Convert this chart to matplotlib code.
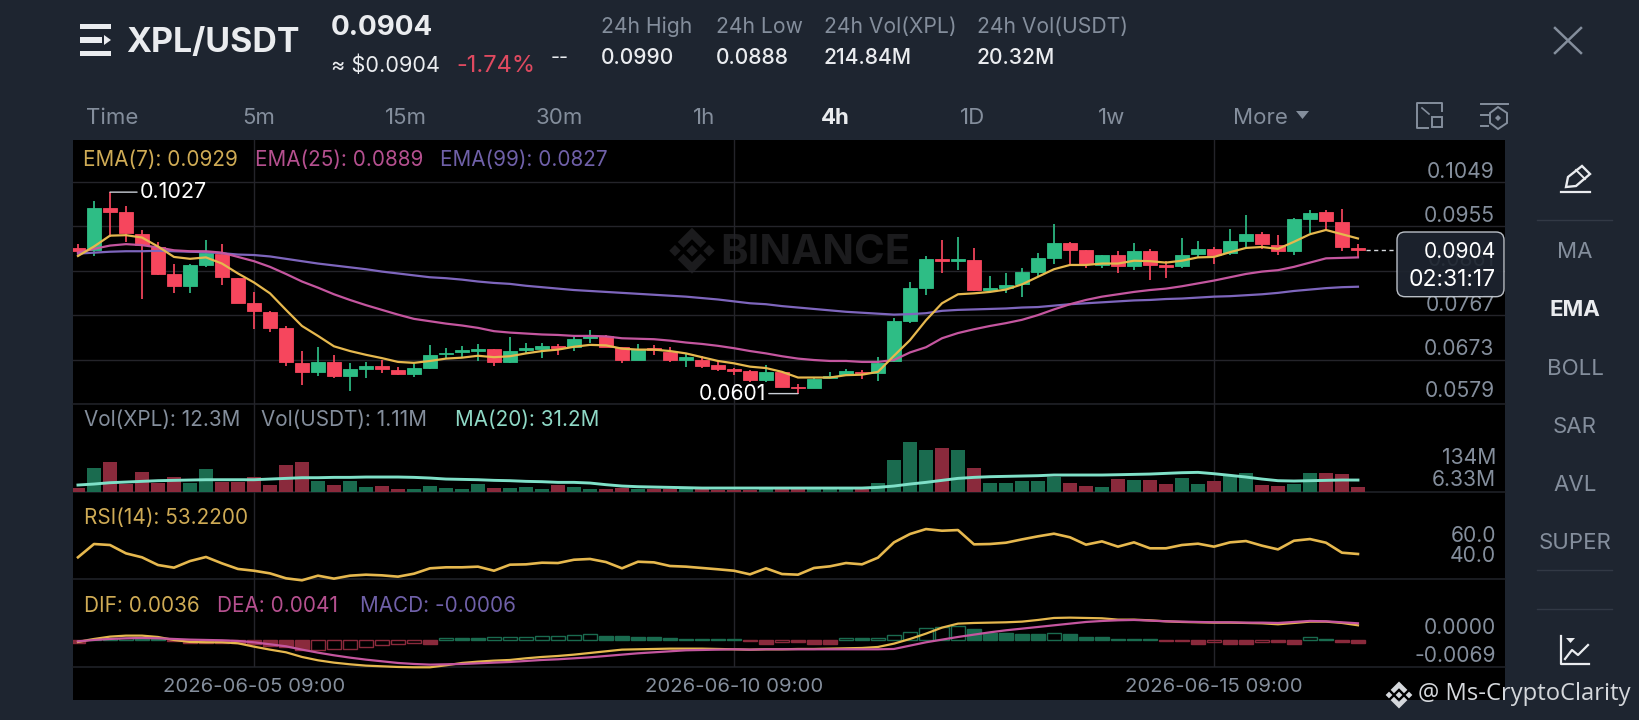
import numpy as np
import pandas as pd
import matplotlib
matplotlib.use("Agg")
import matplotlib.pyplot as plt
from matplotlib.patches import Polygon, Rectangle, FancyBboxPatch

plt.rcParams['font.family'] = ['Inter', 'DejaVu Sans']

# ---- candles, prices in ticks of 0.0001 USDT, 4h bars ----
times = pd.date_range("2026-06-03 13:00", periods=81, freq="4h")
opens = [909, 905, 994, 984, 938, 912, 853, 828, 873, 896, 845, 793, 773, 740, 665, 647, 668, 638, 654, 659, 651,
         642, 655, 685, 690, 692, 695, 667, 693, 695, 702, 700, 718, 723, 699, 673, 697, 690, 673, 673, 662, 654,
         648, 630, 646, 615, 613, 634, 640, 647, 645, 670, 755, 825, 885, 881, 883, 820, 824, 832, 859, 887, 920,
         904, 873, 894, 871, 902, 873, 871, 897, 907, 898, 924, 938, 915, 902, 970, 984, 964, 908]
closes = [902, 993, 986, 940, 915, 853, 829, 873, 898, 848, 793, 775, 740, 667, 647, 668, 639, 652, 659, 652, 642,
          655, 683, 687, 693, 695, 668, 692, 697, 702, 698, 716, 723, 700, 673, 695, 693, 672, 678, 659, 654, 649,
          630, 647, 615, 613, 632, 638, 649, 644, 666, 755, 824, 886, 881, 886, 820, 825, 831, 858, 887, 919, 904,
          875, 894, 871, 902, 873, 869, 895, 907, 895, 924, 938, 918, 902, 970, 983, 966, 910, 904]
highs = [917, 1008, 1027, 998, 947, 922, 876, 876, 926, 917, 846, 815, 775, 744, 692, 699, 683, 665, 668, 672, 658,
         663, 704, 697, 702, 705, 696, 720, 709, 708, 706, 725, 735, 725, 700, 706, 704, 700, 686, 680, 670, 656,
         651, 661, 647, 621, 634, 647, 653, 651, 679, 761, 838, 892, 926, 933, 908, 850, 857, 867, 898, 959, 921,
         905, 895, 902, 920, 906, 882, 931, 924, 912, 948, 979, 943, 936, 972, 989, 989, 991, 917]
lows = [892, 893, 933, 922, 802, 852, 813, 814, 869, 831, 792, 737, 732, 660, 620, 638, 634, 606, 634, 644, 640,
        637, 654, 676, 679, 670, 659, 666, 685, 676, 683, 691, 708, 699, 665, 672, 683, 668, 658, 656, 649, 640,
        626, 626, 614, 601, 612, 633, 638, 632, 628, 668, 750, 809, 855, 862, 818, 816, 814, 806, 847, 875, 875,
        866, 866, 857, 862, 841, 845, 867, 887, 874, 894, 912, 906, 895, 895, 940, 945, 902, 889]

ema7 = [892, 912, 935, 936, 931, 912, 890, 886, 889, 876, 855, 836, 813, 778, 744, 723, 701, 691, 683, 676, 668,
        666, 670, 675, 677, 681, 678, 680, 686, 691, 694, 700, 704, 703, 696, 694, 694, 691, 686, 678, 670, 665,
        658, 655, 647, 635, 635, 635, 640, 641, 647, 681, 714, 756, 792, 811, 813, 816, 821, 832, 848, 864, 873,
        873, 876, 876, 882, 881, 878, 882, 889, 890, 900, 909, 911, 907, 922, 938, 947, 938, 929]
ema25 = [899, 907, 914, 917, 915, 910, 904, 902, 902, 899, 890, 881, 869, 854, 838, 825, 811, 799, 788, 778, 768,
         759, 754, 749, 745, 740, 733, 730, 728, 726, 725, 723, 723, 722, 718, 717, 716, 713, 709, 706, 702, 697,
         691, 686, 680, 675, 672, 670, 670, 668, 668, 672, 688, 699, 718, 729, 737, 744, 750, 757, 767, 779, 790,
         799, 806, 811, 816, 820, 823, 828, 834, 840, 847, 854, 859, 862, 869, 878, 887, 888, 889]
ema99 = [897, 899, 901, 902, 902, 903, 902, 901, 900, 898, 895, 894, 891, 886, 881, 876, 872, 868, 864, 859, 855,
         851, 847, 845, 842, 838, 835, 833, 829, 826, 823, 820, 818, 816, 814, 812, 810, 808, 806, 803, 800, 796,
         792, 790, 786, 783, 780, 777, 774, 772, 770, 768, 769, 771, 776, 778, 779, 780, 781, 783, 784, 787, 790,
         792, 794, 796, 798, 799, 801, 802, 804, 806, 807, 809, 811, 814, 818, 821, 824, 826, 827]

# ---- volume in millions ----
volume = [8.9, 62.5, 79.5, 20.5, 51.8, 24, 38.4, 22.3, 59.8, 26.8, 26.8, 40.2, 17.9, 71.4, 79.5, 29.5, 17.9, 28.6,
          11.6, 14.3, 6.3, 6.3, 14.3, 10.7, 6.3, 20.5, 8.9, 10.7, 12.5, 7.1, 17.9, 12.5, 6.3, 7.1, 10.7, 6.3, 6.3,
          6.3, 6.3, 6.3, 5, 5, 5, 6, 8, 6, 6, 6, 6, 6, 22.3, 84.8, 134, 111.6, 117.9, 111.6, 62.5, 22.3, 22.3, 29.5,
          28.6, 40.2, 24.1, 15.2, 11.6, 33.9, 30.4, 32.1, 19.6, 37.5, 20.5, 29.5, 42, 50, 17.9, 16, 20.5, 50, 50,
          47.3, 12.3]
vol_ma20 = [17.9, 20.5, 24.1, 25.9, 27.7, 29.5, 30.4, 31.3, 32.1, 32.1, 32.1, 32.1, 33.9, 35.7, 37.5, 37.5, 38.4,
            38.4, 39.3, 39.3, 39.3, 38.4, 36.6, 33.9, 33, 32.1, 30.4, 29.5, 27.7, 26.8, 25, 25, 23.2, 18.8, 15.2,
            13.4, 12.5, 11.6, 10.7, 9.8, 9.8, 9.8, 9.8, 9.8, 9.8, 9.8, 9.8, 9.8, 9.8, 9.8, 11.6, 15.2, 20.5, 25,
            30.4, 35.7, 38.4, 40.2, 41.1, 42, 42.9, 44.7, 44.7, 44.7, 44.7, 45.5, 46.4, 47.3, 49.1, 50.9, 51.8,
            48.2, 43.8, 39.3, 33.9, 29.5, 28.6, 29.5, 30.4, 31.3, 31.2]

rsi14 = [50.2, 62.3, 61.4, 53.8, 50.2, 43.2, 40.8, 46.8, 50.5, 44.7, 39.6, 38.0, 35.6, 31.1, 29.3, 33.5, 30.8, 33.5,
         34.4, 33.8, 32.6, 35.3, 40.2, 41.1, 41.1, 41.7, 38.0, 43.5, 43.8, 45.3, 45.0, 48.0, 48.7, 45.9, 40.2, 46.2,
         45.6, 42.3, 41.7, 40.5, 39.3, 38.0, 34.7, 40.2, 35.0, 34.4, 40.5, 42.0, 45.0, 43.8, 49.9, 63.8, 71.4, 75.9,
         74.4, 75.0, 62.0, 62.3, 63.5, 66.5, 69.3, 71.7, 68.4, 61.7, 64.7, 59.9, 63.8, 58.4, 58.4, 61.4, 62.6, 59.9,
         63.8, 65.0, 60.8, 57.4, 65.3, 66.8, 63.5, 54.4, 53.22]

# ---- MACD, also in ticks of 0.0001 ----
dif = [-4, 3.2, 8.8, 11.2, 11.2, 8, 0.8, -4, -4.8, -4.8, -7.2, -15.2, -22.4, -28.8, -40, -48, -53.6, -57.6, -60.8,
       -62.4, -64, -64.8, -64.8, -60, -54.4, -51.2, -48.8, -47.2, -43.2, -40, -37.6, -34.4, -30.4, -26.4, -22.4,
       -21.6, -20.8, -20, -20, -20, -20.8, -21.6, -22.4, -21.6, -21.6, -20.8, -20.8, -20, -19.2, -18.4, -16, -8, 3.2,
       16, 30.4, 40, 41.6, 42.4, 43.2, 44.8, 48.8, 53.6, 54.4, 53.6, 52.8, 49.6, 49.6, 48, 45.6, 44, 43.2, 42.4, 42.4,
       41.6, 40.8, 38.4, 41.6, 44.8, 44.8, 41.6, 36]
dea = [-2.4, 0.8, 3.2, 4.8, 5.6, 4.8, 3.2, 1.6, 0.8, 0, -1.6, -4.8, -9.6, -14.4, -22.4, -29.6, -36, -41.6, -46.4,
       -50.4, -54.4, -56.8, -58.4, -57.6, -56.8, -55.2, -53.6, -52, -49.6, -47.2, -45.6, -43.2, -40.8, -37.6, -34.4,
       -31.2, -28.8, -26.4, -24, -23.2, -22.4, -21.6, -22.4, -21.6, -21.6, -21.6, -21.6, -21.6, -21.6, -21.6, -21.6,
       -20.8, -12.8, -4.8, 1.6, 8, 13.6, 19.2, 24, 28, 32, 36, 40, 44, 46.4, 48, 48.8, 47.2, 45.6, 44.8, 44, 43.2, 43.2,
       42.4, 42.4, 41.6, 44, 46.4, 45.6, 43.2, 40.8]
macd_hist = [-5.6, 4, 5.6, 6.4, 5.6, 3.2, -2.4, -5.6, -5.6, -5.6, -5.6, -10, -13, -15, -24, -23.5, -22, -20, -16,
             -12, -8, -7, -8, 6, 6, 6, 7, 8, 9, 11, 11.5, 12, 14, 11, 10, 8, 8, 6, 4, 4, 4, 4, -2, -8, -3, -3, -8, -8,
             6, 5, 6, 13, 21, 29, 33, 34, 27, 18, 18, 15, 15, 18, 15, 9, 7, 4, 4, 4, -2, -2, -8, -3, -8, -8, -3, -3,
             -8, 7, 4, -3, -6]

price_ticks = [0.1049, 0.0955, 0.0861, 0.0767, 0.0673, 0.0579]
date_positions = [11, 41, 71]

tick = 1e-4
opens, closes, highs, lows = [np.array(a) * tick for a in (opens, closes, highs, lows)]
ema7, ema25, ema99 = [np.array(a) * tick for a in (ema7, ema25, ema99)]
dif, dea, macd_hist = [np.array(a) * tick for a in (dif, dea, macd_hist)]
volume = np.array(volume)
x = np.arange(len(times))
up = closes >= opens

# ---- colours ----
BG = '#1e2530'
GREY = '#848e9c'
WHITE = '#eaecef'
GREEN = '#2ebd85'
RED = '#f6465d'
GREEN_D = '#1a6b4f'
RED_D = '#8a2a3c'
YELLOW = '#e6b84e'
PINK = '#c4569f'
PURPLE = '#7e66bd'
MINT = '#7fe0c8'
GRID = '#24242a'
YELLOW_T = '#cfab55'
PINK_T = '#b5508f'
PURPLE_T = '#6f60a8'
TXT = 14.9  # most of the chart text

W, H = 1640, 720
fig = plt.figure(figsize=(W / 100, H / 100), dpi=100, facecolor=BG)


def ax_px(left, top, right, bottom, zorder=1):
    a = fig.add_axes([left / W, 1 - bottom / H, (right - left) / W, (bottom - top) / H], zorder=zorder)
    a.patch.set_visible(False)
    return a


def full_layer(zorder):
    a = ax_px(0, 0, W, H, zorder)
    a.set_xlim(0, W)
    a.set_ylim(H, 0)
    a.axis('off')
    return a


def binance_logo(a, cx, cy, r, color):
    chev = [(0, 1), (0.62, 0.38), (0.37, 0.13), (0, 0.5), (-0.37, 0.13), (-0.62, 0.38)]
    diam = [(0, 0.25), (0.25, 0), (0, -0.25), (-0.25, 0)]
    for sign in (1, -1):
        a.add_patch(Polygon([(cx + px * r, cy - sign * py * r) for px, py in chev], fc=color, ec='none'))
    for dx in (-0.74, 0, 0.74):
        a.add_patch(Polygon([(cx + (px + dx) * r, cy - py * r) for px, py in diam], fc=color, ec='none'))


# ---- background layer ----
bg = full_layer(0)
bg.add_patch(Rectangle((72.7, 139.5), 1505 - 72.7, 700 - 139.5, fc='black', ec='none'))
for sep in (404, 491.7, 579.3, 667.3):
    bg.plot([72.7, 1505], [sep, sep], color='#1f2127', lw=1.2)
binance_logo(bg, 692, 250.7, 23, '#1b1b1d')
bg.text(815, 253.5, 'BINANCE', color='#1b1b1d', fontsize=30, fontweight='bold', ha='center', va='center')

# ---- panes, all on the same candle index ----
xlim = (-0.33, 89.19)
ax_price = ax_px(72.7, 139.5, 1505, 404)
ax_vol = ax_px(72.7, 404, 1505, 491.7)
ax_rsi = ax_px(72.7, 491.7, 1505, 579.3)
ax_macd = ax_px(72.7, 579.3, 1505, 667.3)
for a in (ax_price, ax_vol, ax_rsi, ax_macd):
    a.set_xlim(*xlim)
    for s in a.spines.values():
        s.set_visible(False)
    a.set_xticks(date_positions)
    a.tick_params(length=0, labelbottom=False, labelleft=False)
    a.set_yticks([])
    a.grid(axis='x', color=GRID, lw=1)
    a.set_axisbelow(True)

# price pane
ax_price.set_ylim(0.0579, 0.11383)
ax_price.set_yticks(price_ticks)
ax_price.grid(axis='y', color=GRID, lw=1)
colors = [GREEN if u else RED for u in up]
ax_price.vlines(x, lows, highs, colors=colors, lw=1.25, zorder=2)
ax_price.bar(x, np.abs(closes - opens), bottom=np.minimum(opens, closes), width=0.86, color=colors,
             edgecolor=colors, lw=0.6, zorder=3)
ax_price.plot(x, ema99, color=PURPLE, lw=1.6, zorder=4)
ax_price.plot(x, ema25, color=PINK, lw=1.6, zorder=4)
ax_price.plot(x, ema7, color=YELLOW, lw=1.6, zorder=5)
ax_price.hlines(closes[-1], x[-1] + 0.5, 82.4, colors='#d5d8dc', lw=1, linestyles=(0, (3, 2.5)), zorder=4)
for val in price_ticks:
    # the lowest label sits a bit higher so it stays inside the pane
    lift = 5.2 if val == price_ticks[-1] else 3
    ax_price.annotate(f'{val:.4f}', xy=(1, val), xycoords=ax_price.get_yaxis_transform(), xytext=(-7.5, lift),
                      textcoords='offset points', ha='right', va='baseline', color=GREY, fontsize=15.2, zorder=1)

# highest and lowest marks
hi = int(np.argmax(highs))
lo = int(np.argmin(lows))
ax_price.annotate(f'{highs[hi]:.4f}', xy=(x[hi], highs[hi]), xytext=(21.5, 0), textcoords='offset points', ha='left',
                  va='center', color='white', fontsize=15.5,
                  arrowprops=dict(arrowstyle='-', color='#c9ced6', lw=1, shrinkA=0, shrinkB=0), zorder=6)
ax_price.annotate(f'{lows[lo]:.4f}', xy=(x[lo], lows[lo]), xytext=(-23, 0), textcoords='offset points', ha='right',
                  va='center', color='white', fontsize=15.2,
                  arrowprops=dict(arrowstyle='-', color='#c9ced6', lw=1, shrinkA=0, shrinkB=0), zorder=6)

# volume pane
ax_vol.set_ylim(0, 235)
ax_vol.bar(x, volume, width=0.86, color=[GREEN_D if u else RED_D for u in up], zorder=2)
ax_vol.plot(x, vol_ma20, color=MINT, lw=2.1, zorder=3)

# rsi pane
ax_rsi.set_ylim(30.2, 109.9)
ax_rsi.plot(x, rsi14, color=YELLOW, lw=1.9, clip_on=False, zorder=3)

# macd pane
ax_macd.set_ylim(-0.00648, 0.01464)
for xi, val, prev in zip(x, macd_hist, np.r_[macd_hist[0], macd_hist[:-1]]):
    col = GREEN_D if val >= 0 else RED_D
    hollow = val > prev
    ax_macd.bar(xi, val, width=0.84, facecolor='none' if hollow else col, edgecolor=col, lw=1, zorder=2)
ax_macd.plot(x, dif, color=YELLOW, lw=1.6, clip_on=False, zorder=3)
ax_macd.plot(x, dea, color=PINK, lw=1.6, clip_on=False, zorder=4)
ax_macd.set_xticks(date_positions)
ax_macd.set_xticklabels([times[i].strftime('%Y-%m-%d %H:%M') for i in date_positions])
ax_macd.tick_params(axis='x', labelbottom=True, labelcolor=GREY, labelsize=14.6, pad=8)

# ---- everything around the chart ----
ui = full_layer(5)


def t(px, py, s, color=GREY, size=TXT, ha='left', weight='normal', **kw):
    ui.text(px, py, s, color=color, fontsize=size, ha=ha, va='center', fontweight=weight, **kw)


# hamburger logo and pair
ui.add_patch(Rectangle((80, 24), 31, 4.7, fc=WHITE, ec='none'))
ui.add_patch(Rectangle((80, 37), 22, 5.5, fc=WHITE, ec='none'))
ui.add_patch(Polygon([(104, 35), (111, 40), (104, 45)], fc=WHITE, ec='none'))
ui.add_patch(Rectangle((80, 51), 31, 5, fc=WHITE, ec='none'))
t(126, 42.5, 'XPL/USDT', WHITE, 24.4, weight='bold')
t(331, 28, '0.0904', WHITE, 20, weight='bold')
t(331, 65.7, '≈ $0.0904', WHITE, 15.6)
t(456, 65.7, '-1.74%', '#e04a60', 17)
t(551, 57.5, '--', WHITE, 14)
stats = [(601, '24h High', '0.0990'), (716, '24h Low', '0.0888'),
         (824, '24h Vol(XPL)', '214.84M'), (977, '24h Vol(USDT)', '20.32M')]
for sx, name, val in stats:
    t(sx, 27, name, GREY, 15.2)
    t(sx, 57.5, val, WHITE, 15.2, weight='medium')
ui.plot([1555, 1581], [28, 53], color=GREY, lw=1.8)
ui.plot([1555, 1581], [53, 28], color=GREY, lw=1.8)

# interval tabs
t(86, 117.5, 'Time', GREY, 16)
for cx, lab in [(259, '5m'), (406, '15m'), (559, '30m'), (704, '1h'), (973, '1D'), (1112, '1w')]:
    t(cx, 117.5, lab, GREY, 16, ha='center')
t(835, 117.5, '4h', WHITE, 16, ha='center', weight='bold')
t(1233, 117.5, 'More', GREY, 16)
ui.add_patch(Polygon([(1296, 111), (1309, 111), (1302.5, 119)], fc=GREY, ec='none'))
# expand and settings icons
ui.plot([1430, 1442, 1442], [103, 103, 111], color=GREY, lw=1.4)
ui.plot([1428, 1417, 1417, 1428], [103, 103, 128, 128], color=GREY, lw=1.4)
ui.add_patch(Rectangle((1432, 117), 10, 10, fc='none', ec=GREY, lw=1.4))
ui.plot([1422, 1429], [108, 114], color=GREY, lw=1.2)
ui.plot([1481, 1508], [104, 104], color=GREY, lw=1.4)
ui.plot([1481, 1488], [115, 115], color=GREY, lw=1.4)
ui.plot([1481, 1488], [126, 126], color=GREY, lw=1.4)
ui.add_patch(Polygon([(1498, 107), (1507, 113), (1507, 123), (1498, 129), (1490, 123), (1490, 113)],
                     fc='none', ec=GREY, lw=1.4))
ui.add_patch(Polygon([(1498, 115), (1501, 118), (1498, 121), (1495, 118)], fc=GREY, ec='none'))

# indicator legends
t(83, 160.3, 'EMA(7): 0.0929', YELLOW_T)
t(255, 160.3, 'EMA(25): 0.0889', PINK_T)
t(440, 160.3, 'EMA(99): 0.0827', PURPLE_T)
t(84, 420, 'Vol(XPL): 12.3M', GREY)
t(261, 420, 'Vol(USDT): 1.11M', GREY)
t(455, 420, 'MA(20): 31.2M', '#8fd9c6')
t(84, 518, 'RSI(14): 53.2200', YELLOW_T)
t(84, 606.5, 'DIF: 0.0036', YELLOW_T)
t(217, 606.5, 'DEA: 0.0041', PINK_T)
t(360, 606.5, 'MACD: -0.0006', PURPLE_T)

# right hand labels of the lower panes
for ly, lab in [(458.5, '134M'), (480, '6.33M'), (536, '60.0'), (556, '40.0'), (627.5, '0.0000'), (656, '-0.0069')]:
    t(1496, ly, lab, GREY, 15.2, ha='right')

# last price box
ui.add_patch(FancyBboxPatch((1400, 235), 101, 58.7, boxstyle='round,pad=3,rounding_size=8', fc=BG, ec='#c9ced6',
                            lw=1, alpha=0.92))
t(1496, 252, '0.0904', 'white', 15.2, ha='right')
t(1496, 279.5, '02:31:17', 'white', 16.5, ha='right')

# side menu
for sy in (220, 570, 609):
    ui.plot([1537, 1612], [sy, sy], color='#323945', lw=1)
for ly, lab in [(251.7, 'MA'), (369, 'BOLL'), (427, 'SAR'), (485, 'AVL'), (542.7, 'SUPER')]:
    t(1575, ly, lab, GREY, 16, ha='center')
t(1575, 310, 'EMA', WHITE, 16, ha='center', weight='bold')
# pencil
ui.add_patch(Polygon([(1566, 187), (1568, 177), (1582, 166), (1590, 174), (1576, 186)], fc='none', ec=WHITE, lw=1.7))
ui.plot([1576, 1585], [170, 179], color=WHITE, lw=1.4)
ui.plot([1561, 1586], [192, 192], color=WHITE, lw=1.6)
ui.plot([1588.5, 1590.5], [192, 192], color=WHITE, lw=1.6)
# chart icon
ui.plot([1561, 1561, 1589], [636, 664, 664], color=WHITE, lw=1.6)
ui.plot([1565, 1572, 1578, 1588], [659, 650, 655, 645], color=WHITE, lw=1.6)
ui.add_patch(Polygon([(1566, 638), (1575, 638), (1570.5, 643)], fc=WHITE, ec='none'))

# author stamp
binance_logo(ui, 1399, 695, 13.5, '#d5d8dc')
ui.text(1418, 694.5, '@ Ms-CryptoClarity', color='#d5d8dc', fontsize=17.1, ha='left', va='center',
        family=['Open Sans', 'DejaVu Sans'])

fig.savefig('out.png', dpi=100, facecolor=fig.get_facecolor())
